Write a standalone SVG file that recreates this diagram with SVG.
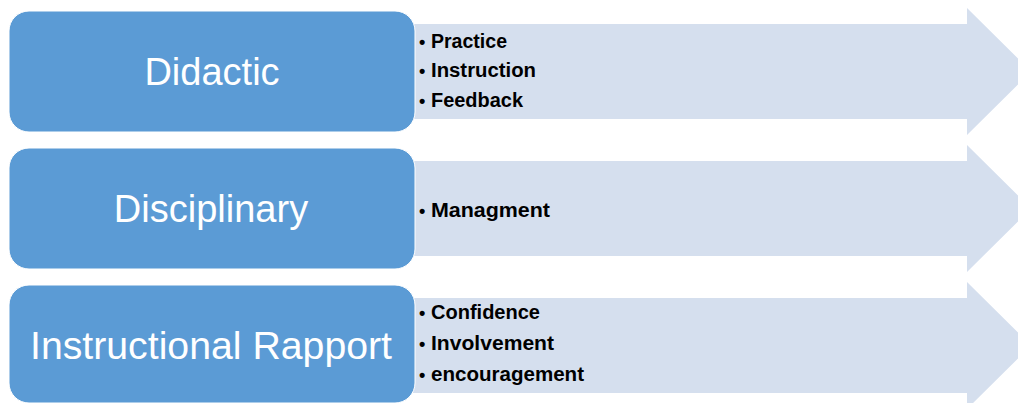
<svg xmlns="http://www.w3.org/2000/svg" width="1018" height="403" viewBox="0 0 1018 403">
<style>
.arrow{fill:#D5DFEE;}
.box{fill:#5B9BD5;stroke:#FFFFFF;stroke-width:1;}
.title{font-family:"Liberation Sans",Arial,sans-serif;font-size:38px;fill:#FFFFFF;text-anchor:middle;}
.item{font-family:"Liberation Sans",Arial,sans-serif;font-size:20px;font-weight:bold;fill:#000000;}
.bul{font-family:"Liberation Sans",Arial,sans-serif;font-size:18px;font-weight:bold;fill:#000000;}
</style>
<rect width="1018" height="403" fill="#FFFFFF"/>
<g id="connectors">
<polygon class="arrow" points="405,24 967,24 967,8 1031,71.5 967,135 967,119 405,119"/>
<polygon class="arrow" points="405,161 967,161 967,145 1031,208.5 967,272 967,256 405,256"/>
<polygon class="arrow" points="405,298 967,298 967,282 1031,345.5 967,409 967,393 405,393"/>
</g>
<g id="node-didactic">
<rect class="box" x="9" y="11" width="406" height="121" rx="20" ry="20"/>
<text class="title" x="212" y="85">Didactic</text>
</g>
<g id="node-didactic-items">
<text class="bul" x="419" y="48">•</text><text class="item" x="431" y="48" textLength="76" lengthAdjust="spacingAndGlyphs">Practice</text>
<text class="bul" x="419" y="77">•</text><text class="item" x="431" y="77" textLength="105" lengthAdjust="spacingAndGlyphs">Instruction</text>
<text class="bul" x="419" y="107">•</text><text class="item" x="431" y="107" textLength="92" lengthAdjust="spacingAndGlyphs">Feedback</text>
</g>
<g id="node-disciplinary">
<rect class="box" x="9" y="148" width="406" height="121" rx="20" ry="20"/>
<text class="title" x="211" y="222">Disciplinary</text>
</g>
<g id="node-disciplinary-items">
<text class="bul" x="419" y="217">•</text><text class="item" x="431" y="217" textLength="119" lengthAdjust="spacingAndGlyphs">Managment</text>
</g>
<g id="node-rapport">
<rect class="box" x="9" y="285" width="406" height="118" rx="20" ry="20"/>
<text class="title" x="211" y="359" textLength="362" lengthAdjust="spacingAndGlyphs">Instructional Rapport</text>
</g>
<g id="node-rapport-items">
<text class="bul" x="419" y="319">•</text><text class="item" x="431" y="319" textLength="109" lengthAdjust="spacingAndGlyphs">Confidence</text>
<text class="bul" x="419" y="350">•</text><text class="item" x="431" y="350" textLength="123" lengthAdjust="spacingAndGlyphs">Involvement</text>
<text class="bul" x="419" y="381">•</text><text class="item" x="431" y="381" textLength="153" lengthAdjust="spacingAndGlyphs">encouragement</text>
</g>
</svg>
